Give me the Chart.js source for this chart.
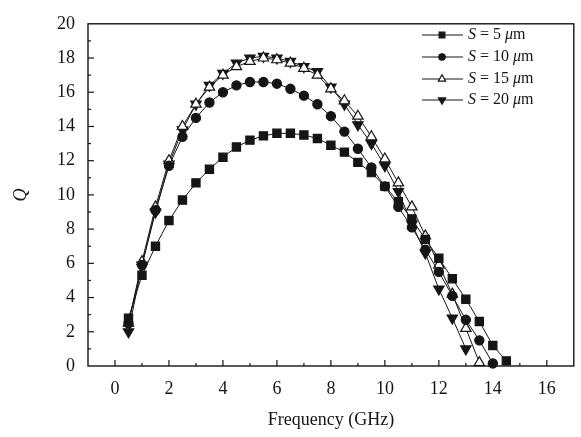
<!DOCTYPE html>
<html><head><meta charset="utf-8">
<script src="https://cdn.jsdelivr.net/npm/chart.js@4.4.0/dist/chart.umd.min.js"></script>
<style>html,body{margin:0;padding:0;background:#fff}#w{width:581px;height:437px}</style>
</head><body><div id="w"><canvas id="c" width="581" height="437"></canvas></div>
<script>
const freq = [0.5,1,1.5,2,2.5,3,3.5,4,4.5,5,5.5,6,6.5,7,7.5,8,8.5,9,9.5,10,10.5,11,11.5,12,12.5,13,13.5,14,14.5];
const qS5  = [2.8,5.3,7.0,8.5,9.7,10.7,11.5,12.2,12.8,13.2,13.45,13.6,13.6,13.5,13.3,12.9,12.5,11.9,11.3,10.5,9.6,8.6,7.4,6.3,5.1,3.9,2.6,1.2,0.3];
const qS10 = [2.5,5.9,9.1,11.7,13.4,14.5,15.4,16.0,16.4,16.6,16.6,16.5,16.2,15.8,15.3,14.6,13.7,12.7,11.6,10.5,9.3,8.1,6.8,5.5,4.1,2.7,1.5,0.15];
const qS15 = [2.5,6.1,9.3,12.0,14.0,15.3,16.3,17.0,17.5,17.8,18.0,17.9,17.7,17.4,17.0,16.2,15.5,14.6,13.4,12.1,10.7,9.3,7.6,5.9,4.2,2.2,0.2];
const qS20 = [2.0,5.9,9.0,11.8,13.8,15.3,16.4,17.1,17.7,18.0,18.1,18.0,17.8,17.5,17.2,16.3,15.3,14.1,13.0,11.7,10.2,8.3,6.6,4.5,2.8,1.0];
const spacings = ['5','10','15','20'];
const xTicks = [0,2,4,6,8,10,12,14,16];
const yTicks = [0,2,4,6,8,10,12,14,16,18,20];

const INK = '#151515';
const SERIF = '"Liberation Serif", "DejaVu Serif", serif';
const styles = [
  {pointStyle:'rect', radius:5.8, rotation:0, fill:INK},
  {pointStyle:'circle', radius:4.6, rotation:0, fill:INK},
  {pointStyle:'triangle', radius:6, rotation:0, fill:'#fff'},
  {pointStyle:'triangle', radius:6, rotation:180, fill:INK}
];
const seriesVals = [qS5, qS10, qS15, qS20];
function pts(vals){ return vals.map((v,i)=>({x:freq[i], y:v})); }

const datasets = seriesVals.map((vals,k)=>({
  label: 'S = ' + spacings[k] + ' μm',
  data: pts(vals),
  borderColor: INK,
  borderWidth: 1,
  pointStyle: styles[k].pointStyle,
  pointRadius: styles[k].radius,
  pointRotation: styles[k].rotation,
  pointBackgroundColor: styles[k].fill,
  pointBorderColor: INK,
  pointBorderWidth: 1.2,
  tension: 0,
  clip: false
}));

const framePlugin = {
  id: 'frame',
  afterDraw(chart){
    const {ctx, chartArea:a, scales:{x, y}} = chart;
    ctx.save();
    ctx.strokeStyle = INK;
    ctx.lineWidth = 1.4;
    ctx.strokeRect(a.left, a.top, a.right - a.left, a.bottom - a.top);
    ctx.lineWidth = 1.2;
    // inward ticks, x
    for (let v = Math.ceil(x.min); v <= x.max; v++) {
      const px = x.getPixelForValue(v);
      if (px <= a.left + 1 || px >= a.right - 1) continue;
      const len = (v % 2 === 0) ? 6 : 3;
      ctx.beginPath(); ctx.moveTo(px, a.bottom); ctx.lineTo(px, a.bottom - len); ctx.stroke();
    }
    for (let v = Math.ceil(y.min); v <= y.max; v++) {
      const py = y.getPixelForValue(v);
      if (py <= a.top + 1 || py >= a.bottom - 1) continue;
      const len = (v % 2 === 0) ? 6 : 3;
      ctx.beginPath(); ctx.moveTo(a.left, py); ctx.lineTo(a.left + len, py); ctx.stroke();
    }
    // legend
    const rows = [35, 57, 79, 100];
    const lx0 = 422, lx1 = 463, mx = 442, tx = 468;
    chart.data.datasets.forEach((ds, k) => {
      const ry = rows[k];
      ctx.strokeStyle = INK; ctx.lineWidth = 1.2;
      ctx.beginPath(); ctx.moveTo(lx0, ry); ctx.lineTo(lx1, ry); ctx.stroke();
      ctx.fillStyle = styles[k].fill; ctx.strokeStyle = INK;
      Chart.helpers.drawPoint(ctx, {pointStyle: styles[k].pointStyle, radius: styles[k].radius*0.7, rotation: styles[k].rotation, borderWidth: 1.2}, mx, ry);
      ctx.fillStyle = INK;
      ctx.textBaseline = 'middle'; ctx.textAlign = 'left';
      const parts = [['italic ', 'S'], ['', ' = ' + spacings[k] + ' '], ['italic ', 'μ'], ['', 'm']];
      let cx = tx;
      parts.forEach(([st, t]) => {
        ctx.font = st + '16px ' + SERIF;
        ctx.fillText(t, cx, ry);
        cx += ctx.measureText(t).width;
      });
    });
    ctx.restore();
  }
};

new Chart(document.getElementById('c'), {
  type: 'line',
  data: { datasets },
  options: {
    responsive: false,
    animation: false,
    devicePixelRatio: 1,
    layout: { padding: { top: 15, right: 3, left: 0, bottom: 0 } },
    plugins: { legend: { display: false }, tooltip: { enabled: false } },
    scales: {
      x: {
        type: 'linear', min: -1, max: 17,
        afterBuildTicks(s){ s.ticks = xTicks.map(v => ({value: v})); },
        afterFit(s){ s.height = 71; },
        grid: { display: false, drawTicks: false },
        border: { display: false },
        ticks: { color: INK, font: { family: SERIF, size: 18 }, padding: 12, maxRotation: 0 },
        title: { display: true, text: 'Frequency (GHz)', color: INK, font: { family: SERIF, size: 18 }, padding: { top: 0, bottom: 6 } }
      },
      y: {
        type: 'linear', min: 0, max: 20,
        afterBuildTicks(s){ s.ticks = yTicks.map(v => ({value: v})); },
        afterFit(s){ s.width = 88; },
        grid: { display: false, drawTicks: false },
        border: { display: false },
        ticks: { color: INK, font: { family: SERIF, size: 18 }, padding: 13 },
        title: { display: true, text: 'Q', color: INK, font: { family: SERIF, size: 18, style: 'italic' }, padding: { top: 10, bottom: 0 } }
      }
    }
  },
  plugins: [framePlugin]
});
</script>
</body></html>
